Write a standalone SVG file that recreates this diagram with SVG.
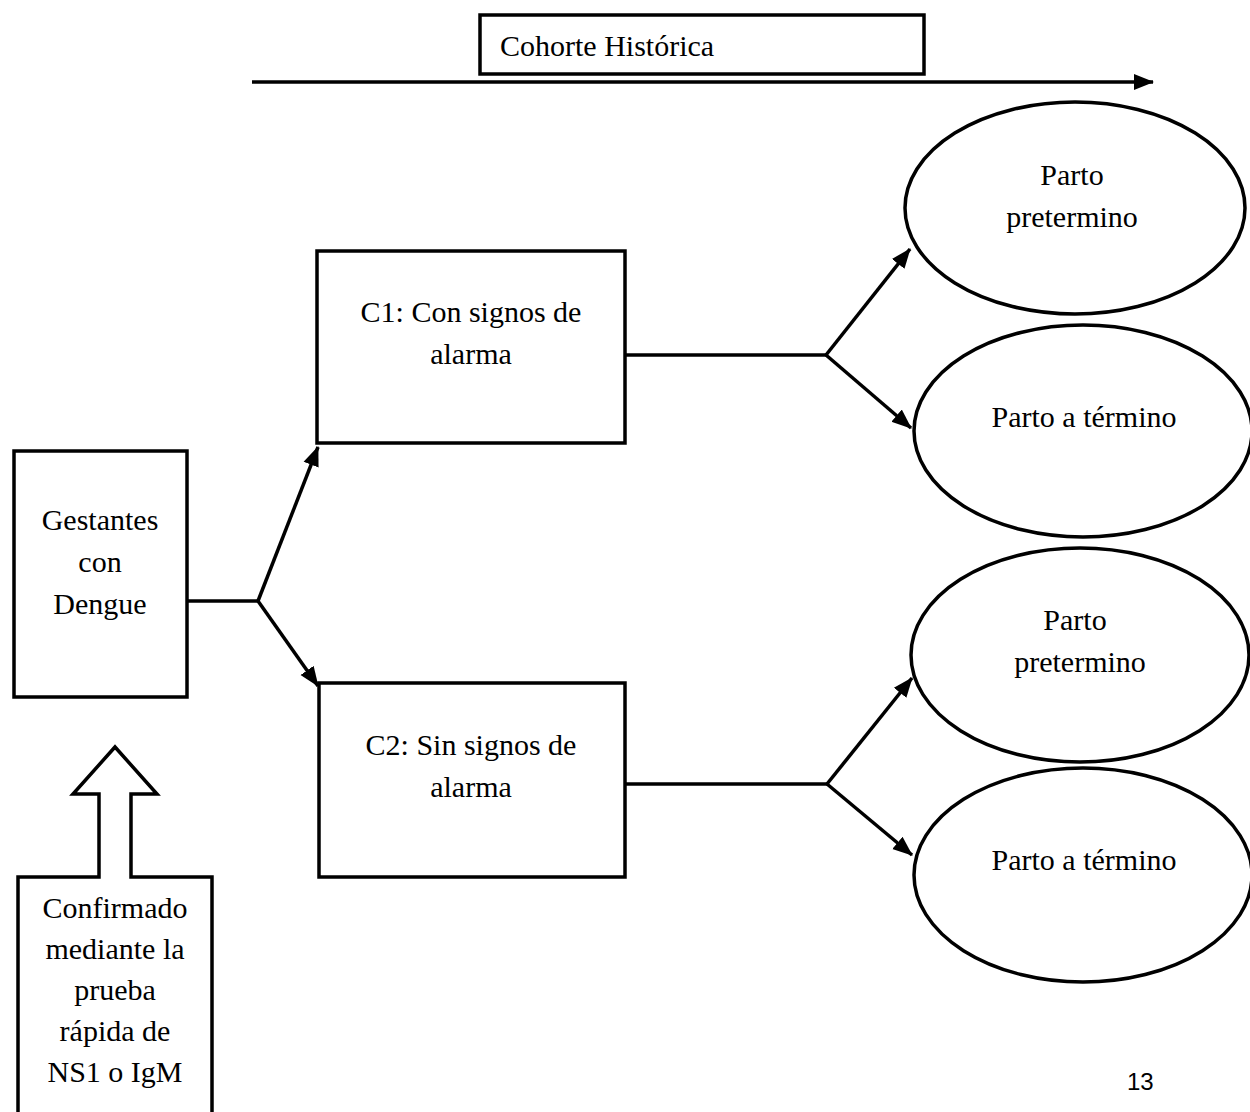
<svg xmlns="http://www.w3.org/2000/svg" width="1250" height="1112" viewBox="0 0 1250 1112">
<style>
.box{fill:#fff;stroke:#000;stroke-width:3.5}
.ell{fill:#fff;stroke:#000;stroke-width:3.5}
.ln{fill:none;stroke:#000;stroke-width:3.5}
.t{font-family:"Liberation Serif","Times New Roman",serif;font-size:30px;fill:#000;text-anchor:middle}
.tl{font-family:"Liberation Serif","Times New Roman",serif;font-size:30px;fill:#000}
.pg{font-family:"Liberation Sans",Arial,sans-serif;font-size:24px;fill:#000}
</style>
<defs>
<marker id="ah" markerUnits="userSpaceOnUse" markerWidth="22" markerHeight="18" refX="19" refY="9" orient="auto">
<path d="M0,1 L20,9 L0,17 Z" fill="#000"/>
</marker>
</defs>
<rect width="1250" height="1112" fill="#fff"/>
<g id="connectors">
<line class="ln" x1="252" y1="82" x2="1153" y2="82" marker-end="url(#ah)"/>
<polyline class="ln" points="187,601 258,601"/>
<line class="ln" x1="258" y1="601" x2="318" y2="447" marker-end="url(#ah)"/>
<line class="ln" x1="258" y1="601" x2="318" y2="686" marker-end="url(#ah)"/>
<polyline class="ln" points="625,355 826,355"/>
<line class="ln" x1="826" y1="355" x2="910" y2="249" marker-end="url(#ah)"/>
<line class="ln" x1="826" y1="355" x2="911" y2="428" marker-end="url(#ah)"/>
<polyline class="ln" points="625,784 827,784"/>
<line class="ln" x1="827" y1="784" x2="912" y2="678" marker-end="url(#ah)"/>
<line class="ln" x1="827" y1="784" x2="912" y2="855" marker-end="url(#ah)"/>
</g>
<g id="cohorte">
<rect class="box" x="480" y="15" width="444" height="59"/>
<text class="tl" x="500" y="56">Cohorte Histórica</text>
</g>
<g id="gestantes">
<rect class="box" x="14" y="451" width="173" height="246"/>
<text class="t" x="100" y="530">Gestantes</text>
<text class="t" x="100" y="572">con</text>
<text class="t" x="100" y="614">Dengue</text>
</g>
<g id="confirmado">
<path class="box" d="M18,1120 L18,877 L99,877 L99,794 L73,794 L115,747 L157,794 L131,794 L131,877 L212,877 L212,1120"/>
<text class="t" x="115" y="918">Confirmado</text>
<text class="t" x="115" y="959">mediante la</text>
<text class="t" x="115" y="1000">prueba</text>
<text class="t" x="115" y="1041">rápida de</text>
<text class="t" x="115" y="1082">NS1 o IgM</text>
</g>
<g id="c1">
<rect class="box" x="317" y="251" width="308" height="192"/>
<text class="t" x="471" y="322">C1: Con signos de</text>
<text class="t" x="471" y="364">alarma</text>
</g>
<g id="c2">
<rect class="box" x="319" y="683" width="306" height="194"/>
<text class="t" x="471" y="755">C2: Sin signos de</text>
<text class="t" x="471" y="797">alarma</text>
</g>
<g id="e1">
<ellipse class="ell" cx="1075" cy="208" rx="170" ry="106"/>
<text class="t" x="1072" y="185">Parto</text>
<text class="t" x="1072" y="227">pretermino</text>
</g>
<g id="e2">
<ellipse class="ell" cx="1083" cy="431" rx="169" ry="106"/>
<text class="t" x="1084" y="427">Parto a término</text>
</g>
<g id="e3">
<ellipse class="ell" cx="1080" cy="655" rx="169" ry="107"/>
<text class="t" x="1075" y="630">Parto</text>
<text class="t" x="1080" y="672">pretermino</text>
</g>
<g id="e4">
<ellipse class="ell" cx="1083" cy="875" rx="169" ry="107"/>
<text class="t" x="1084" y="870">Parto a término</text>
</g>
<g id="page">
<text class="pg" x="1127" y="1090">13</text>
</g>
</svg>
